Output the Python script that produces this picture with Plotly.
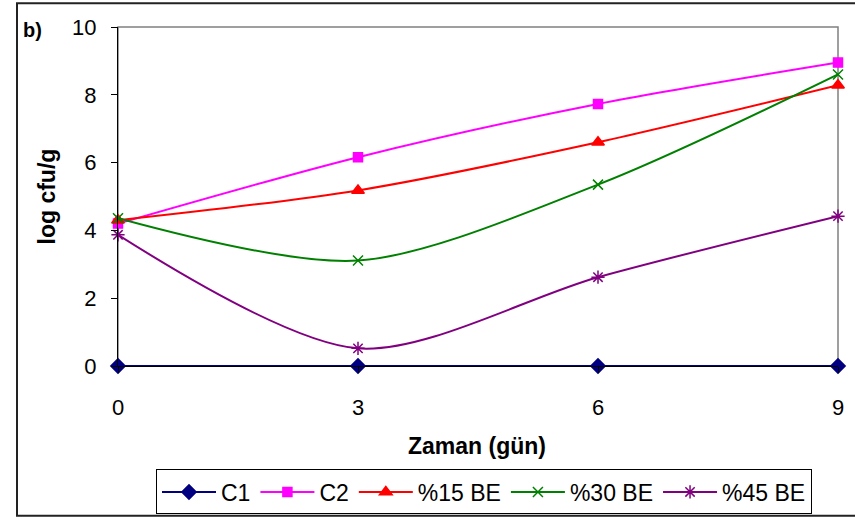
import plotly.graph_objects as go

days = [0, 3, 6, 9]
c1 = [0.0, 0.0, 0.0, 0.0]
c2 = [4.2, 6.16, 7.73, 8.95]
be15 = [4.3, 5.18, 6.6, 8.28]
be30 = [4.36, 3.11, 5.35, 8.6]
be45 = [3.87, 0.52, 2.62, 4.42]

series = [
    ("C1", c1, "#000080", "diamond", 11, "linear"),
    ("C2", c2, "#FF00FF", "square", 9, "spline"),
    ("%15 BE", be15, "#FF0000", "triangle-up", 11, "spline"),
    ("%30 BE", be30, "#008000", "x-thin-open", 10, "spline"),
    ("%45 BE", be45, "#800080", "asterisk-open", 11, "spline"),
]

fig = go.Figure()
for name, vals, col, sym, sz, shape in series:
    fig.add_trace(go.Scatter(
        x=days, y=vals, name=name, mode="lines+markers",
        line=dict(color=col, width=2, shape=shape, smoothing=0.85),
        marker=dict(symbol=sym, size=sz, color=col, line=dict(color=col, width=1.5)),
        cliponaxis=False,
    ))

FONT = "Liberation Sans, Arial, sans-serif"
L, R, T, B = 118, 17, 27, 155
W, H = 855, 526
pw, ph = W - L - R, H - T - B

def px(x):
    return (x - L) / pw

def py(y):
    return (H - B - y) / ph

fig.update_layout(
    width=W, height=H,
    margin=dict(l=L, r=R, t=T, b=B),
    paper_bgcolor="white", plot_bgcolor="white",
    font=dict(family=FONT, size=22, color="black"),
    showlegend=True,
    legend=dict(
        orientation="h", x=px(484), xanchor="center", y=py(476), yanchor="top",
        bordercolor="black", borderwidth=1, bgcolor="white",
        font=dict(size=23, family=FONT), itemwidth=54, tracegroupgap=0,
    ),
    xaxis=dict(
        range=[0, 9], tickvals=days, ticktext=[str(d) for d in days],
        showgrid=False, zeroline=False, showline=True, linecolor="black", linewidth=1,
        ticks="outside", ticklen=6, tickcolor="black", ticklabelstandoff=16,
        tickfont=dict(size=22),
    ),
    yaxis=dict(
        range=[0, 10], tickvals=[0, 2, 4, 6, 8, 10],
        showgrid=False, zeroline=False, showline=True, linecolor="black", linewidth=1,
        ticks="outside", ticklen=6, tickcolor="black", ticklabelstandoff=10,
        tickfont=dict(size=22),
    ),
    shapes=[
        dict(type="rect", xref="paper", yref="paper", x0=0, x1=1, y0=0, y1=1,
             line=dict(color="#808080", width=1.5), layer="below"),
        dict(type="rect", xref="paper", yref="paper",
             x0=px(17), x1=px(870), y0=py(523), y1=py(3),
             line=dict(color="#222222", width=2), layer="below"),
    ],
    annotations=[
        dict(text="<b>Zaman (gün)</b>", xref="paper", yref="paper", x=px(477), y=py(452),
             xanchor="center", yanchor="middle", showarrow=False, font=dict(size=23)),
        dict(text="<b>log cfu/g</b>", xref="paper", yref="paper", x=px(46), y=py(199),
             xanchor="center", yanchor="middle", showarrow=False, textangle=-90,
             font=dict(size=23)),
        dict(text="<b>b)</b>", xref="paper", yref="paper", x=px(21), y=py(30),
             xanchor="left", yanchor="middle", showarrow=False, font=dict(size=20)),
    ],
)

fig.write_html("out.html", config={"displayModeBar": False},
               post_script="document.body.style.margin='0';")
